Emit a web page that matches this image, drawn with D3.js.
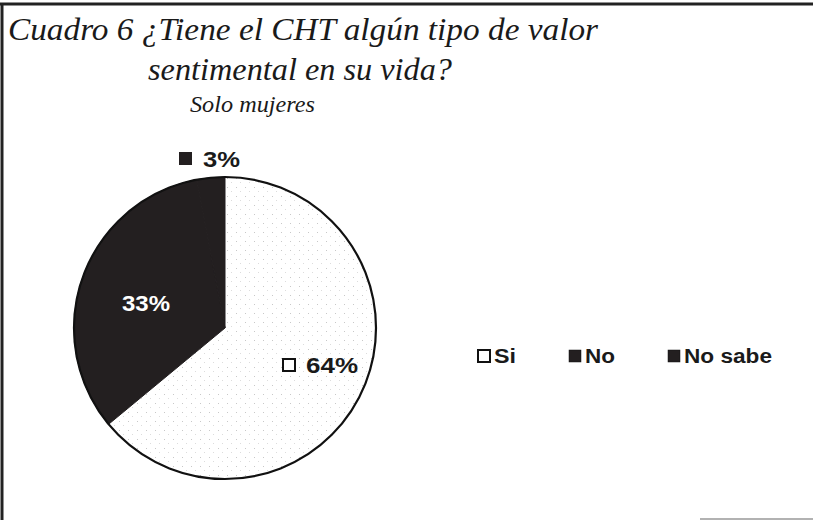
<!DOCTYPE html>
<html>
<head>
<meta charset="utf-8">
<script src="https://cdn.jsdelivr.net/npm/d3@7"></script>
<style>
body { margin: 0; background: #fff; }
svg { display: block; }
.title { font-family: "Liberation Serif", "Times New Roman", serif; font-style: italic; fill: #1a1a1a; }
.lbl { font-family: "Liberation Sans", Arial, sans-serif; font-weight: bold; fill: #1a1a1a; }
</style>
</head>
<body>
<svg id="chart" width="813" height="520"></svg>
<script>
var categories = ["Si", "No", "No sabe"];
var values = [64, 33, 3];
var labels = ["64%", "33%", "3%"];
var titleLines = ["Cuadro 6 ¿Tiene el CHT algún tipo de valor", "sentimental en su vida?"];
var subtitle = "Solo mujeres";

var svg = d3.select("#chart"),
	cx = 225, cy = 328, r = 151,
	dark = "#231f20";

// speckled fill for the light slice
var defs = svg.append("defs");
var pat = defs.append("pattern").attr("id", "speck")
	.attr("width", 9).attr("height", 9).attr("patternUnits", "userSpaceOnUse");
pat.append("rect").attr("width", 9).attr("height", 9).attr("fill", "#fff");
pat.append("rect").attr("x", 2).attr("y", 3).attr("width", 1).attr("height", 1).attr("fill", "#c8c8c8");
pat.append("rect").attr("x", 6).attr("y", 7).attr("width", 1).attr("height", 1).attr("fill", "#dcdcdc");

var fills = { "Si": "url(#speck)", "No": dark, "No sabe": dark };

// frame
svg.append("line").attr("x1", 2).attr("x2", 2).attr("y1", 3).attr("y2", 520)
	.attr("stroke", "#222").attr("stroke-width", 3);
svg.append("line").attr("x1", 0).attr("x2", 813).attr("y1", 4).attr("y2", 4)
	.attr("stroke", "#222").attr("stroke-width", 3);
svg.append("line").attr("x1", 700).attr("x2", 813).attr("y1", 519).attr("y2", 519)
	.attr("stroke", "#999").attr("stroke-width", 1.5);

// titles
svg.append("text").attr("class", "title").attr("x", 8).attr("y", 40)
	.attr("font-size", 32).attr("textLength", 590).attr("lengthAdjust", "spacingAndGlyphs").text(titleLines[0]);
svg.append("text").attr("class", "title").attr("x", 148).attr("y", 80)
	.attr("font-size", 32).attr("textLength", 304).attr("lengthAdjust", "spacingAndGlyphs").text(titleLines[1]);
svg.append("text").attr("class", "title").attr("x", 190).attr("y", 112)
	.attr("font-size", 23).attr("textLength", 125).attr("lengthAdjust", "spacingAndGlyphs").text(subtitle);

var data = categories.map(function(c, i) { return { cat: c, value: values[i], label: labels[i] }; });

var pie = d3.pie().sort(null).value(function(d) { return d.value; }),
	arc = d3.arc().innerRadius(0).outerRadius(r),
	arcs = pie(data);

var g = svg.append("g").attr("transform", "translate(" + cx + "," + cy + ")");

g.selectAll("path.slice")
	.data(arcs)
	.enter().append("path")
		.attr("class", "slice")
		.attr("d", arc)
		.attr("fill", function(d) { return fills[d.data.cat]; })
		.attr("stroke", function(d) { return d.data.cat === "Si" ? "none" : dark; })
		.attr("stroke-width", 1);

g.append("circle").attr("r", r).attr("fill", "none").attr("stroke", "#111").attr("stroke-width", 2.2);

// data labels
svg.append("rect").attr("x", 283).attr("y", 359).attr("width", 12).attr("height", 12)
	.attr("fill", "#fff").attr("stroke", "#111").attr("stroke-width", 2);
svg.append("text").attr("class", "lbl").attr("x", 306).attr("y", 373).attr("font-size", 22)
	.attr("textLength", 52).attr("lengthAdjust", "spacingAndGlyphs").text(labels[0]);

svg.append("text").attr("class", "lbl").attr("x", 122).attr("y", 311).attr("font-size", 22)
	.attr("textLength", 48).attr("lengthAdjust", "spacingAndGlyphs").style("fill", "#fff").text(labels[1]);

svg.append("rect").attr("x", 179).attr("y", 152).attr("width", 13).attr("height", 13).attr("fill", dark);
svg.append("text").attr("class", "lbl").attr("x", 203).attr("y", 167).attr("font-size", 22)
	.attr("textLength", 37).attr("lengthAdjust", "spacingAndGlyphs").text(labels[2]);

// legend
var legendX = [477, 568, 667],
	legendW = [22, 30, 88];
var lg = svg.selectAll("g.leg").data(data).enter().append("g").attr("class", "leg")
	.attr("transform", function(d, i) { return "translate(" + legendX[i] + ",349)"; });
lg.append("rect").attr("x", 1).attr("y", 1).attr("width", 12).attr("height", 12)
	.attr("fill", function(d) { return d.cat === "Si" ? "#fff" : dark; })
	.attr("stroke", "#111").attr("stroke-width", function(d) { return d.cat === "Si" ? 2 : 0.5; });
lg.append("text").attr("class", "lbl").attr("x", 17).attr("y", 14).attr("font-size", 20)
	.attr("textLength", function(d, i) { return legendW[i]; }).attr("lengthAdjust", "spacingAndGlyphs")
	.text(function(d) { return d.cat; });
</script>
</body>
</html>
